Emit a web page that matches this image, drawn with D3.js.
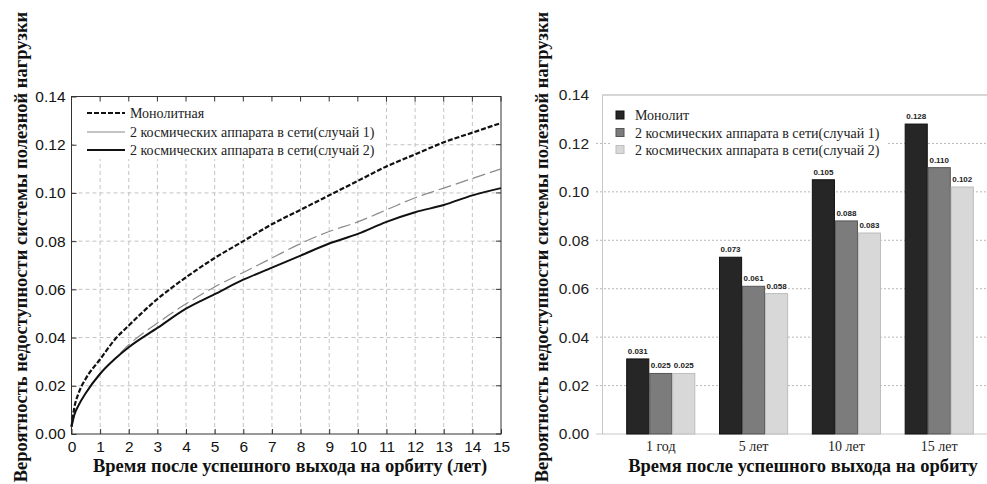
<!DOCTYPE html>
<html>
<head>
<meta charset="utf-8">
<script src="https://cdn.jsdelivr.net/npm/d3@7"></script>
<style>
  body { margin: 0; background: #fff; }
  svg { display: block; }
</style>
</head>
<body>
<div id="viz"></div>
<script>
// ---- data ----
var years = [0, 0.1, 0.25, 0.5, 1, 1.5, 2, 3, 4, 5, 6, 7, 8, 9, 10, 11, 12, 13, 14, 15];
var monolith = [0.003, 0.011, 0.017, 0.023, 0.031, 0.039, 0.045, 0.056, 0.065, 0.073, 0.080, 0.087, 0.093, 0.099, 0.105, 0.111, 0.116, 0.121, 0.125, 0.129];
var case1 = [0.003, 0.008, 0.012, 0.017, 0.025, 0.031, 0.037, 0.046, 0.054, 0.061, 0.067, 0.073, 0.079, 0.084, 0.088, 0.093, 0.098, 0.102, 0.106, 0.110];
var case2 = [0.003, 0.008, 0.012, 0.017, 0.025, 0.031, 0.036, 0.044, 0.052, 0.058, 0.064, 0.069, 0.074, 0.079, 0.083, 0.088, 0.092, 0.095, 0.099, 0.102];

var lineNames = ["Монолитная", "2 космических аппарата в сети(случай 1)", "2 космических аппарата в сети(случай 2)"];
var barNames = ["Монолит", "2 космических аппарата в сети(случай 1)", "2 космических аппарата в сети(случай 2)"];
var periods = ["1 год", "5 лет", "10 лет", "15 лет"];
var barMonolith = [0.031, 0.073, 0.105, 0.128];
var barCase1 = [0.025, 0.061, 0.088, 0.110];
var barCase2 = [0.025, 0.058, 0.083, 0.102];

var yTicks = [0, 0.02, 0.04, 0.06, 0.08, 0.10, 0.12, 0.14];
var xTicks = d3.range(0, 16);

var yTitle = "Вероятность недоступности системы полезной нагрузки";
var xTitleLeft = "Время после успешного выхода на орбиту (лет)";
var xTitleRight = "Время после успешного выхода на орбиту";

var W = 987, H = 484;
var serif = "'Liberation Serif', 'Times New Roman', serif";
var sans = "'Liberation Sans', Arial, sans-serif";
var titleSize = 18.5;

var svg = d3.select("#viz").append("svg")
    .attr("width", W)
    .attr("height", H);

// ================= left: line chart =================
var x = d3.scaleLinear().domain([0, 15]).range([71.5, 501]);
var y = d3.scaleLinear().domain([0, 0.14]).range([434, 96.5]);

var left = svg.append("g");

// grid
left.append("g").selectAll("line.v")
    .data(xTicks.slice(1, -1)).enter()
    .append("line")
    .attr("x1", d => x(d)).attr("x2", d => x(d))
    .attr("y1", y(0)).attr("y2", y(0.14))
    .attr("stroke", "#c4c4c4").attr("stroke-dasharray", "4,3");
left.append("g").selectAll("line.h")
    .data(yTicks.slice(1, -1)).enter()
    .append("line")
    .attr("x1", x(0)).attr("x2", x(15))
    .attr("y1", d => y(d)).attr("y2", d => y(d))
    .attr("stroke", "#c4c4c4").attr("stroke-dasharray", "4,3");

// legend background hides the grid
left.append("rect")
    .attr("x", 74).attr("y", 99).attr("width", 311).attr("height", 60)
    .attr("fill", "#fff");

// axes
var xAxis = left.append("g")
    .attr("transform", "translate(0," + y(0) + ")")
    .call(d3.axisBottom(x).tickValues(xTicks).tickSize(-5).tickPadding(7).tickFormat(d3.format("d")));
var yAxis = left.append("g")
    .attr("transform", "translate(" + x(0) + ",0)")
    .call(d3.axisLeft(y).tickValues(yTicks).tickSize(-5).tickPadding(6).tickFormat(d3.format(".2f")));
[xAxis, yAxis].forEach(function(a) {
    a.select(".domain").remove();
    a.selectAll("line").attr("stroke", "#333");
    a.selectAll("text").attr("font-family", sans).attr("font-size", 15.5).attr("fill", "#111");
});
// top / right ticks
left.append("g").selectAll("line")
    .data(xTicks).enter().append("line")
    .attr("x1", d => x(d)).attr("x2", d => x(d))
    .attr("y1", y(0.14)).attr("y2", y(0.14) + 5)
    .attr("stroke", "#333");
left.append("g").selectAll("line")
    .data(yTicks).enter().append("line")
    .attr("x1", x(15)).attr("x2", x(15) - 5)
    .attr("y1", d => y(d)).attr("y2", d => y(d))
    .attr("stroke", "#333");
left.append("rect")
    .attr("x", x(0)).attr("y", y(0.14))
    .attr("width", x(15) - x(0)).attr("height", y(0) - y(0.14))
    .attr("fill", "none").attr("stroke", "#333");

var line = d3.line()
    .x((d, i) => x(years[i]))
    .y(d => y(d))
    .curve(d3.curveMonotoneX);

var lineStyles = [
    { data: monolith, color: "#111", width: 2.2, dash: "5,2" },
    { data: case1, color: "#8a8a8a", width: 1.2, dash: "13,5" },
    { data: case2, color: "#111", width: 2, dash: null }
];

left.append("g").selectAll("path")
    .data(lineStyles).enter()
    .append("path")
    .attr("d", d => line(d.data))
    .attr("fill", "none")
    .attr("stroke", d => d.color)
    .attr("stroke-width", d => d.width)
    .attr("stroke-dasharray", d => d.dash);

var legL = left.append("g").selectAll("g")
    .data(lineStyles).enter().append("g")
    .attr("transform", (d, i) => "translate(87," + [113, 132, 150][i] + ")");
legL.append("line")
    .attr("x1", 0).attr("x2", 38)
    .attr("stroke", d => d.color)
    .attr("stroke-width", d => d.width)
    .attr("stroke-dasharray", (d, i) => i === 0 ? "5,2" : null);
legL.append("text")
    .attr("x", 43).attr("y", 5)
    .attr("font-family", serif).attr("font-size", 14).attr("fill", "#222")
    .text((d, i) => lineNames[i]);

left.append("text")
    .attr("transform", "translate(27,247) rotate(-90)")
    .attr("text-anchor", "middle")
    .attr("font-family", serif).attr("font-weight", "bold").attr("font-size", titleSize)
    .attr("fill", "#111")
    .text(yTitle);
left.append("text")
    .attr("x", 290).attr("y", 472)
    .attr("text-anchor", "middle")
    .attr("font-family", serif).attr("font-weight", "bold").attr("font-size", titleSize)
    .attr("fill", "#111")
    .text(xTitleLeft);

// ================= right: bar chart =================
var xb = d3.scaleBand().domain(periods).range([602, 998]).padding(0.266);
var x1 = d3.scaleBand().domain([0, 1, 2]).range([0, xb.bandwidth()]).paddingInner(0.04);
var yb = d3.scaleLinear().domain([0, 0.14]).range([434, 95]);

var right = svg.append("g");

right.append("g").selectAll("line")
    .data(yTicks.slice(1, -1)).enter()
    .append("line")
    .attr("x1", 596).attr("x2", W)
    .attr("y1", d => yb(d)).attr("y2", d => yb(d))
    .attr("stroke", "#b8b8b8").attr("stroke-dasharray", "2,2");

right.append("rect")
    .attr("x", 610).attr("y", 102).attr("width", 276).attr("height", 56)
    .attr("fill", "#fff");

var yAxisB = right.append("g")
    .attr("transform", "translate(602,0)")
    .call(d3.axisLeft(yb).tickValues(yTicks).tickSize(0).tickPadding(13).tickFormat(d3.format(".2f")));
yAxisB.select(".domain").attr("stroke", "#c8c8c8");
yAxisB.selectAll("text").attr("font-family", sans).attr("font-size", 15.5).attr("fill", "#222");

right.append("line")
    .attr("x1", 596).attr("x2", W).attr("y1", yb(0)).attr("y2", yb(0))
    .attr("stroke", "#c8c8c8");
right.append("line")
    .attr("x1", 602).attr("x2", W).attr("y1", yb(0.14)).attr("y2", yb(0.14))
    .attr("stroke", "#c8c8c8").attr("stroke-width", 1.5);

var barSeries = [
    { values: barMonolith, fill: "#262626", stroke: "#111" },
    { values: barCase1, fill: "#7c7c7c", stroke: "#555" },
    { values: barCase2, fill: "#d8d8d8", stroke: "#bdbdbd" }
];

var groups = right.append("g").selectAll("g")
    .data(periods).enter().append("g")
    .attr("transform", d => "translate(" + xb(d) + ",0)");

groups.selectAll("rect")
    .data((p, j) => barSeries.map((s, k) => ({ k: k, v: s.values[j], s: s })))
    .enter().append("rect")
    .attr("x", d => x1(d.k))
    .attr("y", d => yb(d.v))
    .attr("width", x1.bandwidth())
    .attr("height", d => yb(0) - yb(d.v))
    .attr("fill", d => d.s.fill)
    .attr("stroke", d => d.s.stroke);

groups.selectAll("text")
    .data((p, j) => barSeries.map((s, k) => ({ k: k, v: s.values[j] })))
    .enter().append("text")
    .attr("x", d => x1(d.k) + x1.bandwidth() / 2)
    .attr("y", d => yb(d.v) - 5)
    .attr("text-anchor", "middle")
    .attr("font-family", sans).attr("font-weight", "bold").attr("font-size", 8)
    .attr("fill", "#222")
    .text(d => d3.format(".3f")(d.v));

right.append("g").selectAll("text")
    .data(periods).enter().append("text")
    .attr("x", d => xb(d) + xb.bandwidth() / 2)
    .attr("y", 451)
    .attr("text-anchor", "middle")
    .attr("font-family", serif).attr("font-size", 14).attr("fill", "#222")
    .text(d => d);

var legR = right.append("g").selectAll("g")
    .data(barSeries).enter().append("g")
    .attr("transform", (d, i) => "translate(616," + [115, 132.5, 149.5][i] + ")");
legR.append("rect")
    .attr("x", 0).attr("y", -4).attr("width", 8).attr("height", 8)
    .attr("fill", d => d.fill).attr("stroke", d => d.stroke);
legR.append("text")
    .attr("x", 19).attr("y", 5)
    .attr("font-family", serif).attr("font-size", 14).attr("fill", "#222")
    .text((d, i) => barNames[i]);

right.append("text")
    .attr("transform", "translate(548,247) rotate(-90)")
    .attr("text-anchor", "middle")
    .attr("font-family", serif).attr("font-weight", "bold").attr("font-size", titleSize)
    .attr("fill", "#111")
    .text(yTitle);
right.append("text")
    .attr("x", 803).attr("y", 472)
    .attr("text-anchor", "middle")
    .attr("font-family", serif).attr("font-weight", "bold").attr("font-size", titleSize)
    .attr("fill", "#111")
    .text(xTitleRight);
</script>
</body>
</html>
